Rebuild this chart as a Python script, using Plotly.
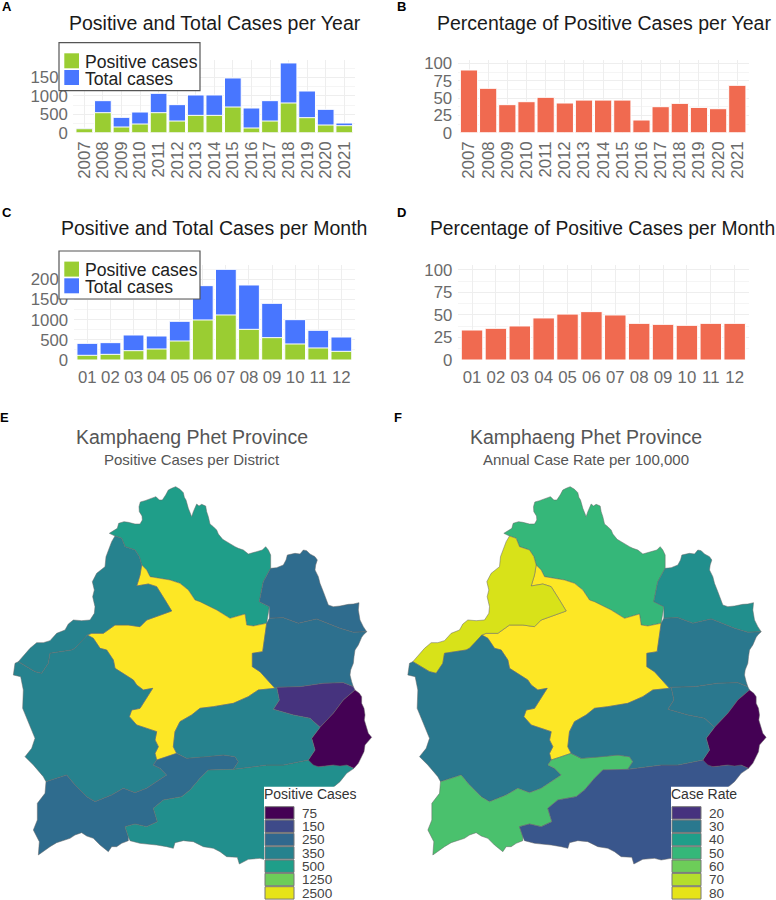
import plotly.graph_objects as go

YEARS = [str(y) for y in range(2007, 2022)]
YEAR_TOTAL = [127, 868, 416, 560, 1067, 760, 1022, 1022, 1483, 669, 868, 1890, 1130, 633, 262]
YEAR_POS = [108, 542, 154, 235, 542, 316, 470, 470, 696, 127, 316, 805, 407, 208, 190]
YEAR_PCT = [90.4, 64, 40.4, 44.7, 51, 42.8, 47, 47, 47, 18.3, 37.5, 42.3, 36.5, 34.6, 68.3]
MONTHS = ["01", "02", "03", "04", "05", "06", "07", "08", "09", "10", "11", "12"]
MONTH_TOTAL = [413, 430, 620, 595, 959, 1843, 2248, 1860, 1405, 1000, 736, 570]
MONTH_POS = [116, 140, 231, 273, 471, 992, 1116, 760, 554, 397, 298, 215]
MONTH_PCT = [33.3, 35.2, 37.8, 46.7, 51, 53.7, 50, 40.7, 39.6, 38.5, 40.7, 40.7]
COUNT_TICKS = [0, 500, 1000, 1500, 2000]
PCT_TICKS = [0, 25, 50, 75, 100]

NORTH = [(328,400),(340,392),(352,385),(356,370),(372,365),(385,367),(405,372),(420,372),(427,360),(426,348),(418,335),(417,320),(421,306),(435,302),(445,298),(460,292),(468,290),(478,300),(487,300),(497,285),(505,270),(515,265),(527,260),(540,268),(550,278),(553,292),(558,300),(565,325),(575,350),(580,335),(585,320),(590,312),(597,318),(605,313),(617,318),(620,335),(625,350),(630,372),(640,380),(650,390),(655,402),(668,418),(680,425),(695,435),(705,440),(715,445),(730,450),(745,462),(760,458),(775,455),(787,450),(797,440),(805,450),(812,465),(812,505),(790,545),(778,605),(808,620),(800,670),(760,678),(740,675),(735,642),(690,655),(650,630),(600,605),(585,600),(565,570),(540,550),(510,540),(480,535),(450,530),(440,510),(425,495),(418,470),(405,450),(375,440),(365,415),(345,408)]
CENTER = [(425,495),(440,510),(450,530),(480,535),(510,540),(540,550),(565,570),(585,600),(600,605),(650,630),(690,655),(735,642),(740,675),(760,678),(800,670),(788,755),(757,760),(757,800),(780,815),(825,865),(775,870),(745,890),(700,910),(640,920),(600,925),(575,945),(540,965),(525,995),(520,1040),(530,1060),(495,1072),(470,1080),(465,1060),(475,1040),(465,1020),(470,995),(440,985),(410,975),(388,950),(395,930),(420,925),(458,865),(430,870),(410,855),(400,840),(375,825),(345,805),(340,780),(320,750),(300,745),(280,715),(262,705),(275,700),(310,700),(345,675),(385,675),(420,680),(440,660),(515,633),(495,600),(470,560),(445,552),(410,558),(420,525)]
NORTHWEST = [(345,408),(365,415),(375,440),(405,450),(418,470),(425,495),(420,525),(410,558),(445,552),(470,560),(495,600),(515,633),(440,660),(420,680),(385,675),(345,675),(310,700),(275,700),(262,705),(250,720),(225,745),(215,750),(150,760),(145,790),(125,820),(105,815),(55,785),(85,750),(90,745),(110,728),(130,728),(150,722),(170,700),(195,690),(205,672),(220,660),(245,662),(270,660),(283,640),(285,620),(278,590),(283,570),(277,545),(290,520),(315,500),(318,470),(325,450),(335,425)]
WEST = [(55,785),(105,815),(125,820),(145,790),(150,760),(215,750),(225,745),(250,720),(262,705),(280,715),(300,745),(320,750),(340,780),(345,805),(375,825),(400,840),(410,855),(430,870),(458,865),(420,925),(395,930),(388,950),(410,975),(440,985),(470,995),(465,1020),(475,1040),(465,1060),(470,1080),(460,1095),(480,1105),(500,1125),(470,1145),(440,1165),(405,1178),(370,1165),(335,1185),(285,1205),(260,1190),(225,1155),(200,1125),(170,1135),(138,1145),(130,1130),(100,1095),(75,1070),(95,1045),(105,1015),(85,965),(68,925),(70,870),(62,830),(40,825),(45,790)]
STRIP = [(460,1095),(470,1080),(495,1072),(530,1060),(560,1075),(620,1070),(670,1065),(705,1070),(715,1085),(700,1108),(625,1110),(600,1135),(570,1170),(545,1190),(490,1200),(460,1225),(472,1265),(440,1280),(405,1272),(375,1280),(385,1310),(385,1322),(365,1330),(350,1340),(335,1340),(325,1355),(300,1335),(280,1315),(260,1308),(245,1298),(225,1305),(210,1315),(195,1320),(170,1328),(150,1340),(130,1355),(115,1365),(118,1325),(100,1290),(112,1260),(112,1210),(135,1180),(138,1145),(170,1135),(200,1125),(225,1155),(260,1190),(285,1205),(335,1185),(370,1165),(405,1178),(440,1165),(470,1145),(500,1125),(480,1105)]
SOUTHEAST = [(625,1110),(700,1108),(800,1095),(850,1095),(925,1080),(955,1100),(1000,1095),(1040,1095),(1062,1105),(1040,1120),(1020,1145),(990,1170),(950,1230),(900,1310),(830,1375),(800,1380),(780,1375),(745,1378),(718,1392),(712,1372),(680,1370),(660,1355),(640,1345),(610,1340),(580,1325),(550,1322),(525,1328),(520,1345),(500,1340),(470,1335),(420,1330),(390,1322),(385,1310),(375,1280),(405,1272),(440,1280),(472,1265),(460,1225),(490,1200),(545,1190),(570,1170),(600,1135)]
NORTHEAST = [(812,505),(830,503),(850,495),(858,480),(862,465),(875,462),(885,460),(900,462),(910,450),(920,452),(930,462),(945,470),(952,480),(947,495),(945,510),(955,530),(960,550),(970,575),(985,615),(1000,620),(1020,618),(1045,613),(1060,612),(1077,608),(1075,630),(1080,660),(1090,680),(1100,695),(1060,697),(1020,685),(985,670),(950,657),(895,670),(850,653),(808,655),(808,620),(778,605),(790,545)]
EAST = [(800,670),(808,655),(850,653),(895,670),(950,657),(985,670),(1020,685),(1060,697),(1100,695),(1090,705),(1085,712),(1075,735),(1065,750),(1062,770),(1060,790),(1052,810),(1050,825),(1055,845),(1060,860),(1030,848),(970,850),(900,860),(830,862),(825,865),(780,815),(757,800),(757,760),(788,755)]
EAST_SMALL = [(830,862),(900,860),(970,850),(1030,848),(1060,860),(1065,870),(1030,900),(1000,940),(960,982),(930,955),(880,945),(820,928),(838,900)]
FAR_EAST = [(1065,870),(1078,880),(1085,890),(1085,910),(1092,925),(1095,945),(1093,960),(1100,985),(1105,1000),(1115,1012),(1105,1025),(1095,1035),(1092,1055),(1085,1070),(1075,1090),(1062,1105),(1048,1098),(1040,1095),(1020,1098),(1000,1095),(975,1098),(955,1100),(940,1095),(925,1080),(945,1050),(935,1015),(960,982),(1000,940),(1030,900)]
SOUTH_CENTRAL = [(825,865),(830,862),(838,900),(820,928),(880,945),(930,955),(960,982),(935,1015),(945,1050),(925,1080),(850,1095),(800,1095),(700,1108),(715,1085),(705,1070),(670,1065),(620,1070),(560,1075),(530,1060),(520,1040),(525,995),(540,965),(575,945),(600,925),(640,920),(700,910),(745,890),(775,870)]

DISTRICTS = [NORTH, CENTER, NORTHWEST, WEST, STRIP, SOUTHEAST, NORTHEAST, EAST, EAST_SMALL, FAR_EAST, SOUTH_CENTRAL]
COLORS_E = ["#1F9E89", "#FDE725", "#26828E", "#26828E", "#2F6C8E", "#218F8D", "#2F6C8E", "#2D708E", "#46337E", "#440154", "#26828E"]
COLORS_F = ["#35B779", "#FDE725", "#D8E219", "#2A788E", "#4AC16D", "#39568C", "#218F8D", "#2A788E", "#2A788E", "#440154", "#2A788E"]

LEGEND_E_LABELS = ["75", "150", "250", "350", "500", "1250", "2500"]
LEGEND_E_COLORS = ["#440154", "#3E4A89", "#31688E", "#26828E", "#1F9E89", "#6DCD59", "#E6E419"]
LEGEND_F_LABELS = ["20", "30", "40", "50", "60", "70", "80"]
LEGEND_F_COLORS = ["#46327E", "#2A788E", "#1F9E89", "#35B779", "#6DCD59", "#B4DE2C", "#E6E419"]

W, H = 776, 900
GREEN, BLUE, RED = "#9ACD32", "#4876FF", "#F06A50"
TICK = "#6a6a6a"
FONT = "Liberation Sans"
fx = lambda p: p / W
fy = lambda p: 1 - p / H

fig = go.Figure()
shapes, notes = [], []


def text(x, y, s, size, color="#222", anchor="center", bold=False):
    notes.append(dict(x=fx(x), y=fy(y), xref="paper", yref="paper", text=f"<b>{s}</b>" if bold else s,
                      showarrow=False, xanchor=anchor, yanchor="middle", borderpad=0, borderwidth=0,
                      font=dict(family=FONT, size=size, color=color)))


def rect(x0, y0, x1, y1, fill, line=None, width=1):
    shapes.append(dict(type="rect", xref="paper", yref="paper", x0=fx(x0), x1=fx(x1), y0=fy(y1), y1=fy(y0),
                       fillcolor=fill, line=dict(color=line or fill, width=width if line else 0), layer="above"))


def axes(n, left, right, top, bottom, xr, yr, ticks, minor, cats, angle=0):
    s = "" if n == 1 else str(n)
    fig.layout["xaxis" + s] = dict(domain=[fx(left), fx(right)], range=xr, type="category", anchor="y" + s,
                                   automargin=False, tickmode="array", tickvals=cats, ticktext=cats,
                                   gridcolor="#EEEEEE", showgrid=True, zeroline=False, showline=False,
                                   ticks="outside", ticklen=1 if angle else 2, tickcolor="rgba(0,0,0,0)",
                                   tickangle=angle, tickfont=dict(family=FONT, size=16.8, color=TICK))
    fig.layout["yaxis" + s] = dict(domain=[fy(bottom), fy(top)], range=yr, anchor="x" + s, tickvals=ticks,
                                   automargin=False, gridcolor="#EEEEEE", showgrid=True, zeroline=False, showline=False,
                                   ticks="outside", ticklen=1, tickcolor="rgba(0,0,0,0)",
                                   minor=dict(dtick=minor, showgrid=True, gridcolor="#F5F5F5", gridwidth=1),
                                   tickfont=dict(family=FONT, size=16.8, color=TICK))


def bars(n, x, y, color, name):
    s = "" if n == 1 else str(n)
    fig.add_trace(go.Bar(x=x, y=y, name=name, marker=dict(color=color, line=dict(color="white", width=1)),
                         width=0.9, xaxis="x" + s, yaxis="y" + s, showlegend=False))


bars(1, YEARS, YEAR_TOTAL, BLUE, "Total cases")
bars(1, YEARS, YEAR_POS, GREEN, "Positive cases")
bars(2, YEARS, YEAR_PCT, RED, "Percentage")
bars(3, MONTHS, MONTH_TOTAL, BLUE, "Total cases")
bars(3, MONTHS, MONTH_POS, GREEN, "Positive cases")
bars(4, MONTHS, MONTH_PCT, RED, "Percentage")

axes(1, 73.2, 355.4, 60, 132.7, [-0.6, 14.6], [0, 1970], COUNT_TICKS[:4], 250, YEARS, -90)
axes(2, 457.5, 748.8, 60, 132.7, [-0.6, 14.6], [0, 104.8], PCT_TICKS, 12.5, YEARS, -90)
axes(3, 73.5, 355.2, 265, 360, [-0.6, 11.6], [0, 2355], COUNT_TICKS, 250, MONTHS)
axes(4, 457.7, 749, 265, 360, [-0.6, 11.6], [0, 105.5], PCT_TICKS, 12.5, MONTHS)

for n, left, colors in ((5, 0, COLORS_E), (6, 394.5, COLORS_F)):
    for poly, c in zip(DISTRICTS, colors):
        fig.add_trace(go.Scatter(x=[p[0] for p in poly] + [poly[0][0]], y=[p[1] for p in poly] + [poly[0][1]],
                                 mode="lines", fill="toself", fillcolor=c, line=dict(color="#666666", width=0.5),
                                 xaxis=f"x{n}", yaxis=f"y{n}", showlegend=False, hoverinfo="skip"))
    fig.layout[f"xaxis{n}"] = dict(domain=[fx(left), fx(min(left + 388, W))], range=[0, (min(left + 388, W) - left) * 3],
                                   visible=False, automargin=False, anchor=f"y{n}")
    fig.layout[f"yaxis{n}"] = dict(domain=[0, fy(400)], range=[1500, 0], visible=False, automargin=False, anchor=f"x{n}")

for left, top in ((59, 42.7), (59, 251)):
    rect(left, top, 200, top + 48, "white", "#555555", 1.2)
    rect(64.3, top + 10.6, 79, top + 25.6, GREEN)
    rect(64.3, top + 27.3, 79, top + 42.3, BLUE)
    text(84.5, top + 19.2, "Positive cases", 17.6, "#222", "left")
    text(84.5, top + 36, "Total cases", 17.6, "#222", "left")

for x0, x1, title, labels, colors in ((264, 358, "Positive Cases", LEGEND_E_LABELS, LEGEND_E_COLORS),
                                      (671, 740, "Case Rate", LEGEND_F_LABELS, LEGEND_F_COLORS)):
    rect(x0, 786.7, x1, 900, "white")
    text(x0 + 0.3, 793.5, title, 14, "#333", "left")
    for i, (lab, col) in enumerate(zip(labels, colors)):
        y = 806.7 + i * 13.33
        rect(x0 + 1, y, x0 + 30, y + 12.4, col, "#777777", 1)
        text(x0 + 37.5, y + 6.4, lab, 13.6, "#444", "left")

text(214.7, 22.7, "Positive and Total Cases per Year", 19.5, "#1a1a1a")
text(603.5, 22.7, "Percentage of Positive Cases per Year", 19.5, "#1a1a1a")
text(213.8, 228.3, "Positive and Total Cases per Month", 19.5, "#1a1a1a")
text(602.5, 228.3, "Percentage of Positive Cases per Month", 19.3, "#1a1a1a")
text(192, 437.3, "Kamphaeng Phet Province", 19.5, "#555555")
text(192, 459.3, "Positive Cases per District", 15, "#555555")
text(586, 437.3, "Kamphaeng Phet Province", 19.5, "#555555")
text(586.3, 459.3, "Annual Case Rate per 100,000", 15, "#555555")
for x, y, s in ((7, 7, "A"), (401, 7, "B"), (7, 212.7, "C"), (401, 212.7, "D"), (4.5, 417.3, "E"), (398, 417.3, "F")):
    text(x, y, s, 13, "black", bold=True)

fig.update_layout(width=W, height=H, autosize=False, margin=dict(l=0, r=0, t=0, b=0, pad=0, autoexpand=False),
                  barmode="overlay", plot_bgcolor="white", paper_bgcolor="white", shapes=shapes, annotations=notes,
                  font=dict(family=FONT))
fig.write_html("out.html", config=dict(displayModeBar=False),
               post_script="document.body.style.margin='0';document.documentElement.style.overflow='hidden';")
